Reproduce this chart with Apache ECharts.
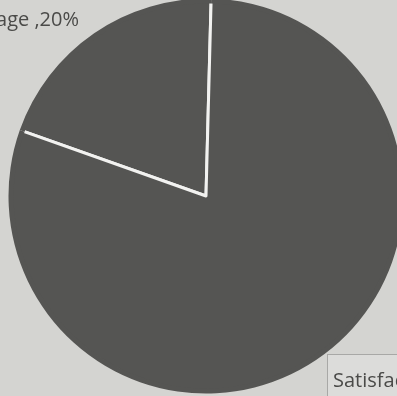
<!DOCTYPE html>
<html>
<head>
<meta charset="utf-8">
<script src="https://cdn.jsdelivr.net/npm/echarts@6/dist/echarts.min.js"></script>
<style>
html,body{margin:0;padding:0;background:#d4d4d1;}
#c{width:397px;height:396px;}
</style>
</head>
<body>
<div id="c"></div>
<script>
var categories = ['Average', 'Satisfactory'];
var values = [20, 80];

var chart = echarts.init(document.getElementById('c'), null, {renderer: 'canvas'});

chart.setOption({
  backgroundColor: '#d4d4d1',
  animation: false,
  series: [{
    type: 'pie',
    center: [206, 196],
    radius: 195,
    startAngle: 88.5,
    clockwise: false,
    avoidLabelOverlap: false,
    z: 2,
    data: [
      {name: categories[0], value: values[0]},
      {name: categories[1], value: values[1], label: {
        backgroundColor: '#dcdcda',
        borderColor: '#a8a8a6',
        borderWidth: 1,
        padding: [16, 8, 8, 5]
      }}
    ],
    itemStyle: {color: '#555553', borderColor: '#f2f2f0', borderWidth: 3},
    label: {
      show: true,
      formatter: '{b} ,{d}%',
      fontFamily: 'Open Sans, Noto Sans, sans-serif',
      fontSize: 20,
      color: '#4a4a48',
      overflow: 'none',
      width: 300
    },
    labelLine: {show: false},
    labelLayout: function (p) {
      if (p.dataIndex === 0) {
        return {x: 79, y: 20, align: 'right', verticalAlign: 'middle', hideOverlap: false};
      }
      return {x: 328, y: 355, align: 'left', verticalAlign: 'top', hideOverlap: false};
    },
    emphasis: {disabled: true}
  }, {
    type: 'pie',
    center: [206, 196],
    radius: [192.5, 197.5],
    startAngle: 88.5,
    clockwise: false,
    silent: true,
    z: 3,
    data: categories.map(function (c, i) { return {name: c, value: values[i]}; }),
    itemStyle: {color: '#555553', borderWidth: 0},
    label: {show: false},
    labelLine: {show: false}
  }]
});
</script>
</body>
</html>
